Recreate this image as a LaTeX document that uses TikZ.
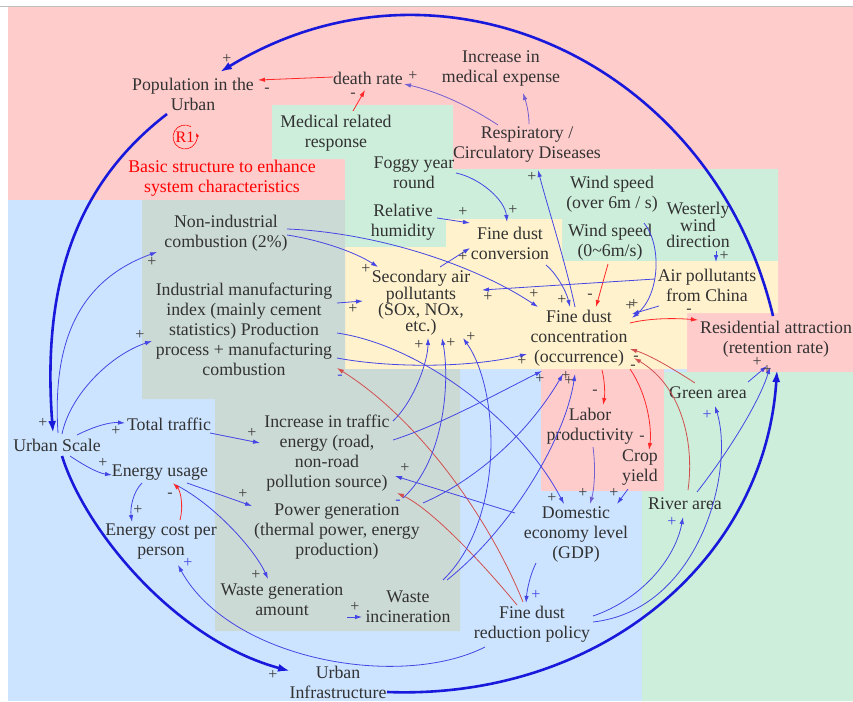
\documentclass[tikz,border=0pt]{standalone}
\usepackage{fontspec}
\setmainfont{Liberation Serif}
\usetikzlibrary{arrows.meta,calc}
\definecolor{bgpink}{RGB}{255,204,204}
\definecolor{bggreen}{RGB}{204,238,218}
\definecolor{bgblue}{RGB}{204,228,255}
\definecolor{bggray}{RGB}{204,218,214}
\definecolor{bgyellow}{RGB}{255,242,204}
\definecolor{txt}{RGB}{50,50,50}
\definecolor{sgc}{RGB}{60,60,60}
\definecolor{lblue}{RGB}{70,70,228}
\definecolor{lpurp}{RGB}{115,95,210}
\definecolor{lred}{RGB}{255,40,40}
\definecolor{ldred}{RGB}{210,80,80}
\definecolor{bblue}{RGB}{25,25,220}
\begin{document}
\begin{tikzpicture}[x=1pt,y=-1pt,
  lab/.style={align=center, inner sep=0pt, text=txt, font=\fontsize{17.8}{20}\selectfont},
  tight/.style={font=\fontsize{17.8}{16.3}\selectfont},
  ln/.style={line width=0.8pt, draw=lblue, -{Latex[length=7pt,width=4.5pt]}},
  lp/.style={ln, draw=lpurp},
  lr/.style={ln, draw=lred},
  ldr/.style={ln, draw=ldred},
  big/.style={line width=2.6pt, draw=bblue, -{Latex[length=12pt,width=8pt]}},
  sg/.style={inner sep=0pt, text=sgc, font=\fontsize{16}{16}\selectfont},
  sgb/.style={sg, text=lblue}
]
\useasboundingbox (0,0) rectangle (853,701);
% backgrounds
\fill[bgblue] (8,7) rectangle (853,701);
\draw[gray!50, line width=1pt] (0,6.5) -- (853,6.5);
\fill[bgpink] (8,7) rectangle (853,200);
\fill[bgpink] (778,7) rectangle (853,372);
\fill[bgpink] (687,313) rectangle (853,372);
\fill[bgpink] (541,369) rectangle (664,491);
\fill[bggreen] (272,105) -- (453,105) -- (453,169) -- (778,169) -- (778,261) -- (562,261) -- (562,219) -- (446,219) -- (446,247) -- (345,247) -- (345,159) -- (272,159) -- cycle;
\fill[bgyellow] (345,247) -- (446,247) -- (446,219) -- (562,219) -- (562,261) -- (778,261) -- (778,313) -- (687,313) -- (687,369) -- (345,369) -- cycle;
\fill[bggray] (142,200) -- (345,200) -- (345,369) -- (460,369) -- (460,631) -- (215,631) -- (215,399) -- (142,399) -- cycle;
\fill[bggreen] (664,372) -- (853,372) -- (853,701) -- (642,701) -- (642,491) -- (664,491) -- cycle;

% nodes
\node[lab] (pop) at (193,94) {Population in the\\Urban};
\node[lab] (death) at (368,78) {death rate};
\node[lab] (medexp) at (501,69) {Increase in\\medical expense};
\node[lab] (medresp) at (336,133) {Medical related\\response};
\node[lab] (resp) at (527,145) {Respiratory /\\Circulatory Diseases};
\node[lab] (foggy) at (414,173) {Foggy year\\round};
\node[lab] (humid) at (403,222) {Relative\\humidity};
\node[lab] (conv) at (510,243) {Fine dust\\conversion};
\node[lab] (ws6) at (612,194) {Wind speed\\(over 6m / s)};
\node[lab] (ws06) at (610,242) {Wind speed\\(0\textasciitilde6m/s)};
\node[lab,tight] (west) at (698,225) {Westerly\\wind\\direction};
\node[lab] (china) at (707,285) {Air pollutants\\from China};
\node[lab] (resid) at (776,339) {Residential attraction\\(retention rate)};
\node[lab] (fdc) at (579,338) {Fine dust\\concentration\\(occurrence)};
\node[lab,tight] (sec) at (421,303) {Secondary air\\pollutants\\(SOx, NOx,\\etc.)};
\node[lab] (nonind) at (226,233) {Non-industrial\\combustion (2\%)};
\node[lab] (ind) at (244,329) {Industrial manufacturing\\index (mainly cement\\statistics) Production\\process + manufacturing\\combustion};
\node[lab] (scale) at (57,445) {Urban Scale};
\node[lab] (traffic) at (169,424) {Total traffic};
\node[lab] (energy) at (160,473) {Energy usage};
\node[lab] (cost) at (161,542) {Energy cost per\\person};
\node[lab] (trafE) at (327,453) {Increase in traffic\\energy (road,\\non-road\\pollution source)};
\node[lab] (power) at (337,531) {Power generation\\(thermal power, energy\\production)};
\node[lab] (wasteg) at (282,600) {Waste generation\\amount};
\node[lab] (wastei) at (408,607) {Waste\\incineration};
\node[lab] (infra) at (338,682) {Urban\\Infrastructure};
\node[lab] (policy) at (532,624) {Fine dust\\reduction policy};
\node[lab] (gdp) at (576,534) {Domestic\\economy level\\(GDP)};
\node[lab] (labor) at (590,426) {Labor\\productivity};
\node[lab] (crop) at (640,468) {Crop\\yield};
\node[lab] (green) at (708,393) {Green area};
\node[lab] (river) at (685,504) {River area};
\node[lab, text=red] (basic) at (222,178) {Basic structure to enhance\\system characteristics};
\node[lab, text=red, font=\fontsize{16}{16}\selectfont] (r1) at (185,137) {R1};
\draw[red, line width=0.6pt, -{Latex[length=4pt,width=3pt]}] ([shift={(300:12)}]r1.center) arc[start angle=300, end angle=-20, radius=12];

% big loop
\draw[big] ($(resid)+(-3,-23)$) .. controls (713,63) and (442,-63) .. ($(pop)+(27,-22)$);
\draw[big] ($(pop)+(-26,20)$) .. controls (75,185) and (42,285) .. ($(scale)+(-4,-12)$);
\draw[big] ($(scale)+(5,11)$) .. controls (85,530) and (175,640) .. ($(infra)+(-48,-11)$);
\draw[big] ($(infra)+(49,10)$) .. controls (600,700) and (765,560) .. ($(resid)+(1,31)$);

% thin connectors
\draw[lr] ($(death)+(-35,-1)$) -- ($(pop)+(65,-14)$);
\draw[lr] ($(medresp)+(17,-22)$) -- ($(death)+(-3,12)$);
\draw[lp] ($(resp)+(-29,-20)$) .. controls (466,104) and (435,91) .. ($(death)+(36,6)$);
\draw[lp] ($(resp)+(2,-21)$) .. controls (529,112) and (526,102) .. ($(medexp)+(22,24)$);
\draw[ln] ($(fdc)+(-4,-31)$) .. controls (565,260) and (547,205) .. ($(resp)+(11,25)$);
\draw[ln] ($(foggy)+(42,0)$) .. controls (480,178) and (505,200) .. ($(conv)+(-3,-21)$);
\draw[ln] ($(humid)+(34,-4)$) -- ($(conv)+(-40,-20)$);
\draw[ln] ($(conv)+(36,22)$) .. controls (555,272) and (566,290) .. ($(fdc)+(-9,-31)$);
\draw[ln] ($(sec)+(19,-36)$) -- ($(conv)+(-40,5)$);
\draw[lr] ($(ws06)+(-2,22)$) -- ($(fdc)+(17,-31)$);
\draw[ln] ($(ws6)+(32,29)$) .. controls (662,245) and (660,295) .. ($(fdc)+(53,-20)$);
\draw[ln] ($(china)+(-52,-6)$) -- ($(sec)+(61,-13)$);
\draw[ln] ($(china)+(-48,21)$) -- ($(fdc)+(53,-24)$);
\draw[ln] ($(west)+(18,26)$) -- ($(china)+(9,-23)$);
\draw[lr] ($(fdc)+(51,-15)$) .. controls (650,318) and (675,318) .. ($(resid)+(-78,-19)$);
\draw[ln] ($(nonind)+(61,2)$) .. controls (320,240) and (355,252) .. ($(sec)+(-43,-36)$);
\draw[ln] ($(nonind)+(61,-4)$) .. controls (370,232) and (470,262) .. ($(fdc)+(-41,-31)$);
\draw[ln] ($(ind)+(93,-26)$) -- ($(sec)+(-58,-2)$);
\draw[ln] ($(ind)+(93,29)$) .. controls (390,368) and (470,368) .. ($(fdc)+(-52,16)$);
\draw[ln] ($(ind)+(93,4)$) .. controls (420,345) and (520,420) .. ($(gdp)+(-12,-30)$);
\draw[ln] ($(scale)+(1,-12)$) .. controls (52,340) and (80,280) .. ($(nonind)+(-69,19)$);
\draw[ln] ($(scale)+(5,-11)$) .. controls (70,395) and (110,355) .. ($(ind)+(-92,12)$);
\draw[ln] ($(scale)+(20,-10)$) .. controls (95,426) and (110,422) .. ($(traffic)+(-44,-1)$);
\draw[ln] ($(scale)+(13,11)$) .. controls (85,466) and (98,473) .. ($(energy)+(-48,2)$);
\draw[ln] ($(traffic)+(41,9)$) -- ($(trafE)+(-67,-10)$);
\draw[ln] ($(energy)+(-18,10)$) .. controls (133,492) and (130,508) .. ($(cost)+(-29,-20)$);
\draw[ln] ($(energy)+(27,10)$) -- ($(power)+(-85,-25)$);
\draw[ln] ($(energy)+(16,12)$) .. controls (215,505) and (255,550) .. ($(wasteg)+(-14,-21)$);
\draw[lr] ($(cost)+(19,-22)$) .. controls (184,505) and (180,490) .. ($(energy)+(13,10)$);
\draw[ln] ($(wasteg)+(65,17)$) -- ($(wastei)+(-46,10)$);
\draw[ln] ($(policy)+(-47,23)$) .. controls (400,690) and (230,660) .. ($(cost)+(17,23)$);
\draw[ldr] ($(policy)+(-9,-22)$) .. controls (490,520) and (420,420) .. ($(ind)+(93,39)$);
\draw[ldr] ($(policy)+(-15,-19)$) .. controls (480,560) and (430,508) .. ($(trafE)+(70,40)$);
\draw[ln] ($(gdp)+(-40,29)$) .. controls (530,575) and (527,590) .. ($(policy)+(-6,-21)$);
\draw[ln] ($(gdp)+(-61,-21)$) -- ($(trafE)+(68,23)$);
\draw[ln] ($(trafE)+(66,-32)$) .. controls (415,400) and (428,360) .. ($(sec)+(7,35)$);
\draw[ln] ($(trafE)+(66,-13)$) .. controls (440,425) and (500,392) .. ($(fdc)+(-37,33)$);
\draw[ln] ($(power)+(66,-33)$) .. controls (445,460) and (450,380) .. ($(sec)+(21,35)$);
\draw[ln] ($(power)+(86,-28)$) .. controls (480,478) and (530,430) .. ($(fdc)+(-16,36)$);
\draw[ln] ($(wastei)+(35,-27)$) .. controls (505,520) and (500,390) .. ($(sec)+(42,35)$);
\draw[ln] ($(wastei)+(39,-27)$) .. controls (510,530) and (565,440) .. ($(fdc)+(-4,36)$);
\draw[lr] ($(fdc)+(23,32)$) .. controls (605,382) and (605,395) .. ($(labor)+(13,-21)$);
\draw[lr] ($(fdc)+(51,31)$) .. controls (648,395) and (652,430) .. ($(crop)+(9,-18)$);
\draw[ldr] ($(green)+(-13,-10)$) .. controls (675,370) and (650,355) .. ($(fdc)+(51,11)$);
\draw[ldr] ($(river)+(3,-14)$) .. controls (695,440) and (680,385) .. ($(fdc)+(55,20)$);
\draw[lp] ($(labor)+(3,21)$) .. controls (596,470) and (594,490) .. ($(gdp)+(14,-30)$);
\draw[ln] ($(crop)+(-12,21)$) -- ($(gdp)+(41,-30)$);
\draw[ln] ($(policy)+(61,-8)$) .. controls (640,600) and (675,560) .. ($(river)+(-2,13)$);
\draw[ln] ($(policy)+(61,-2)$) .. controls (700,610) and (735,470) .. ($(green)+(7,13)$);
\draw[ln] ($(river)+(12,-12)$) .. controls (730,450) and (760,400) .. ($(resid)+(-6,28)$);
\draw[ln] ($(green)+(40,-11)$) -- ($(resid)+(-9,27)$);

% polarity signs
\node[sg] (s1) at (227,59) {+};
\node[sg] (s2) at (267,90) {-};
\node[sg] (s3) at (413,76) {+};
\node[sg] (s4) at (353,95) {-};
\node[sg] (s5) at (532,177) {+};
\node[sg] (s6) at (513,210) {+};
\node[sg] (s7) at (463,212) {+};
\node[sg] (s8) at (463,257) {+};
\node[sg] (s9) at (562,300) {+};
\node[sg] (s10) at (534,294) {+};
\node[sg] (s11) at (590,296) {-};
\node[sg] (s12) at (630,306) {+};
\node[sg] (s13) at (634,304) {+};
\node[sg] (s14) at (488,297) {+};
\node[sg] (s15) at (724,256) {+};
\node[sg] (s16) at (689,311) {-};
\node[sg] (s17) at (366,269) {+};
\node[sg] (s18) at (353,309) {+};
\node[sg] (s19) at (522,361) {+};
\node[sg] (s20) at (552,498) {+};
\node[sg] (s21) at (43,423) {+};
\node[sg] (s22) at (152,262) {+};
\node[sg] (s23) at (140,335) {+};
\node[sg] (s24) at (116,431) {+};
\node[sg] (s25) at (103,463) {+};
\node[sg] (s26) at (252,433) {+};
\node[sg] (s27) at (138,510) {+};
\node[sg] (s28) at (243,494) {+};
\node[sg] (s29) at (256,575) {+};
\node[sg] (s30) at (170,495) {-};
\node[sg] (s31) at (355,607) {+};
\node[sgb] (s32) at (188,563) {+};
\node[sgb] (s33) at (340,377) {-};
\node[sgb] (s34) at (398,502) {-};
\node[sgb] (s35) at (536,595) {+};
\node[sg] (s36) at (405,468) {+};
\node[sg] (s37) at (419,345) {+};
\node[sg] (s38) at (451,343) {+};
\node[sg] (s39) at (471,337) {+};
\node[sg] (s40) at (540,379) {+};
\node[sg] (s41) at (566,376) {+};
\node[sg] (s42) at (569,381) {+};
\node[sg] (s43) at (595,392) {-};
\node[sg] (s44) at (642,438) {-};
\node[sg] (s45) at (636,358) {-};
\node[sg] (s46) at (633,367) {-};
\node[sg] (s47) at (583,493) {+};
\node[sg] (s48) at (614,493) {+};
\node[sgb] (s49) at (672,522) {+};
\node[sgb] (s50) at (707,415) {+};
\node[sg] (s51) at (757,362) {+};
\node[sg] (s52) at (767,370) {+};
\node[sg] (s53) at (273,675) {+};
\end{tikzpicture}
\end{document}
